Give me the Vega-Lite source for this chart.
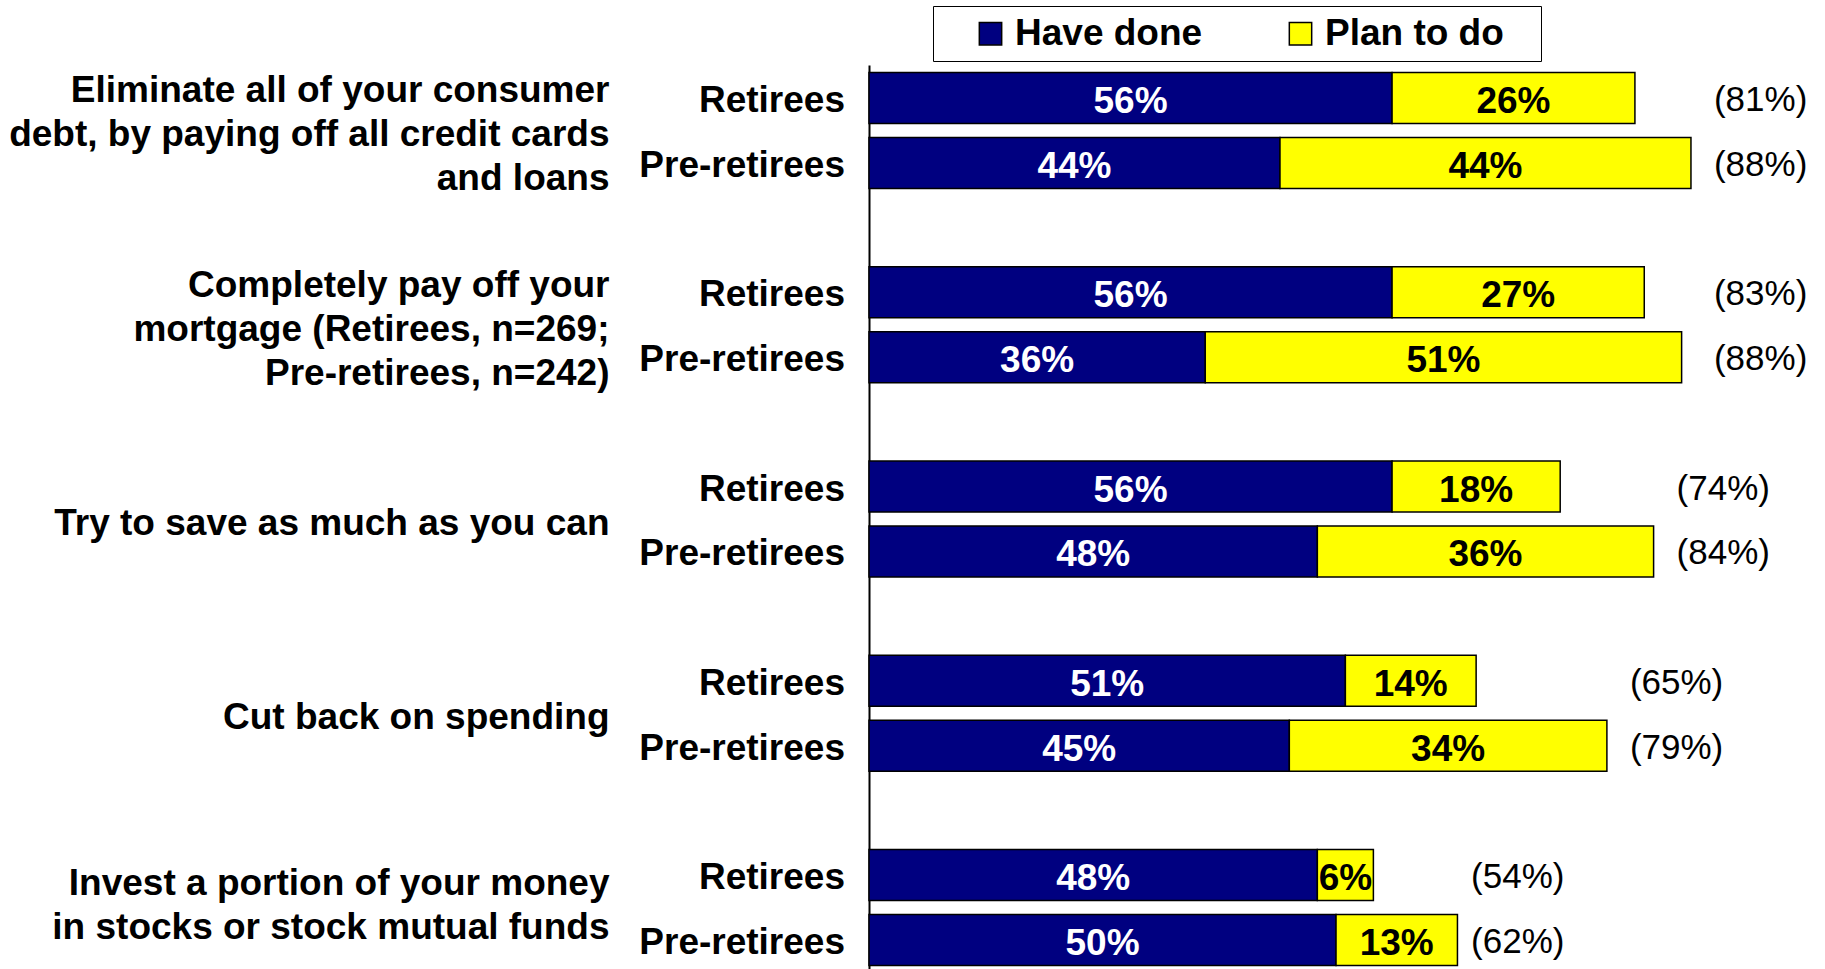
{
  "$schema": "https://vega.github.io/schema/vega-lite/v6.json",
  "width": 956,
  "height": 908,
  "autosize": {"type": "none"},
  "padding": {"left": 869, "top": 65, "right": 0, "bottom": 0},
  "background": "white",
  "config": {
    "view": {"stroke": null},
    "font": "Liberation Sans"
  },
  "datasets": {
    "segments": [
      {"question": "Eliminate all of your consumer|debt, by paying off all credit cards|and loans", "who": "Retirees", "status": "Have done", "value": 56},
      {"question": "Eliminate all of your consumer|debt, by paying off all credit cards|and loans", "who": "Retirees", "status": "Plan to do", "value": 26},
      {"question": "Eliminate all of your consumer|debt, by paying off all credit cards|and loans", "who": "Pre-retirees", "status": "Have done", "value": 44},
      {"question": "Eliminate all of your consumer|debt, by paying off all credit cards|and loans", "who": "Pre-retirees", "status": "Plan to do", "value": 44},
      {"question": "Completely pay off your|mortgage (Retirees, n=269;|Pre-retirees, n=242)", "who": "Retirees", "status": "Have done", "value": 56},
      {"question": "Completely pay off your|mortgage (Retirees, n=269;|Pre-retirees, n=242)", "who": "Retirees", "status": "Plan to do", "value": 27},
      {"question": "Completely pay off your|mortgage (Retirees, n=269;|Pre-retirees, n=242)", "who": "Pre-retirees", "status": "Have done", "value": 36},
      {"question": "Completely pay off your|mortgage (Retirees, n=269;|Pre-retirees, n=242)", "who": "Pre-retirees", "status": "Plan to do", "value": 51},
      {"question": "Try to save as much as you can", "who": "Retirees", "status": "Have done", "value": 56},
      {"question": "Try to save as much as you can", "who": "Retirees", "status": "Plan to do", "value": 18},
      {"question": "Try to save as much as you can", "who": "Pre-retirees", "status": "Have done", "value": 48},
      {"question": "Try to save as much as you can", "who": "Pre-retirees", "status": "Plan to do", "value": 36},
      {"question": "Cut back on spending", "who": "Retirees", "status": "Have done", "value": 51},
      {"question": "Cut back on spending", "who": "Retirees", "status": "Plan to do", "value": 14},
      {"question": "Cut back on spending", "who": "Pre-retirees", "status": "Have done", "value": 45},
      {"question": "Cut back on spending", "who": "Pre-retirees", "status": "Plan to do", "value": 34},
      {"question": "Invest a portion of your money|in stocks or stock mutual funds", "who": "Retirees", "status": "Have done", "value": 48},
      {"question": "Invest a portion of your money|in stocks or stock mutual funds", "who": "Retirees", "status": "Plan to do", "value": 6},
      {"question": "Invest a portion of your money|in stocks or stock mutual funds", "who": "Pre-retirees", "status": "Have done", "value": 50},
      {"question": "Invest a portion of your money|in stocks or stock mutual funds", "who": "Pre-retirees", "status": "Plan to do", "value": 13}
    ],
    "totals": [
      {"question": "Eliminate all of your consumer|debt, by paying off all credit cards|and loans", "who": "Retirees", "total": 81},
      {"question": "Eliminate all of your consumer|debt, by paying off all credit cards|and loans", "who": "Pre-retirees", "total": 88},
      {"question": "Completely pay off your|mortgage (Retirees, n=269;|Pre-retirees, n=242)", "who": "Retirees", "total": 83},
      {"question": "Completely pay off your|mortgage (Retirees, n=269;|Pre-retirees, n=242)", "who": "Pre-retirees", "total": 88},
      {"question": "Try to save as much as you can", "who": "Retirees", "total": 74},
      {"question": "Try to save as much as you can", "who": "Pre-retirees", "total": 84},
      {"question": "Cut back on spending", "who": "Retirees", "total": 65},
      {"question": "Cut back on spending", "who": "Pre-retirees", "total": 79},
      {"question": "Invest a portion of your money|in stocks or stock mutual funds", "who": "Retirees", "total": 54},
      {"question": "Invest a portion of your money|in stocks or stock mutual funds", "who": "Pre-retirees", "total": 62}
    ]
  },
  "encoding": {
    "y": {
      "field": "question",
      "type": "nominal",
      "sort": null,
      "scale": {"paddingInner": 0.326, "paddingOuter": 0},
      "axis": {
        "title": null,
        "ticks": false,
        "tickSize": 0,
        "grid": false,
        "domainColor": "black",
        "domainWidth": 2,
        "labelPadding": 260,
        "labelFont": "Liberation Sans",
        "labelFontSize": 37,
        "labelFontWeight": "bold",
        "labelColor": "black",
        "labelAlign": "right",
        "labelBaseline": "middle",
        "labelLineHeight": 44,
        "labelLimit": 0,
        "labelOffset": {
          "condition": [
            {"test": "length(split(datum.value, '|')) === 3", "value": -39},
            {"test": "length(split(datum.value, '|')) === 2", "value": -24}
          ],
          "value": 5
        },
        "labelExpr": "split(datum.label, '|')"
      }
    },
    "yOffset": {
      "field": "who",
      "type": "nominal",
      "sort": null,
      "scale": {"domain": ["Retirees", "Pre-retirees"], "paddingInner": 0.215, "paddingOuter": 0.115}
    }
  },
  "layer": [
    {
      "data": {"name": "segments"},
      "mark": {"type": "bar", "stroke": "black", "strokeWidth": 1.5},
      "encoding": {
        "x": {
          "field": "value",
          "type": "quantitative",
          "stack": "zero",
          "scale": {"domain": [0, 102.35], "nice": false, "zero": true},
          "axis": null
        },
        "order": {"field": "status", "sort": "ascending"},
        "color": {
          "field": "status",
          "type": "nominal",
          "scale": {"domain": ["Have done", "Plan to do"], "range": ["#000080", "#FFFF00"]},
          "legend": {
            "title": ".",
            "titleOrient": "right",
            "titleColor": "white",
            "titleFontSize": 12,
            "titlePadding": 24,
            "orient": "none",
            "legendX": 64,
            "legendY": -59,
            "direction": "horizontal",
            "columns": 2,
            "strokeColor": "black",
            "fillColor": "white",
            "padding": 9,
            "symbolOffset": 30,
            "columnPadding": 49,
            "labelOffset": 6,
            "labelFont": "Liberation Sans",
            "labelFontSize": 37,
            "labelFontWeight": "bold",
            "labelColor": "black",
            "labelLimit": 0,
            "symbolType": "square",
            "symbolSize": 500,
            "symbolStrokeColor": "black",
            "symbolStrokeWidth": 1.5,
            "symbolOpacity": 1
          }
        }
      }
    },
    {
      "data": {"name": "segments"},
      "transform": [
        {"stack": "value", "groupby": ["question", "who"], "sort": [{"field": "status", "order": "ascending"}], "as": ["v0", "v1"]},
        {"calculate": "(datum.v0 + datum.v1) / 2", "as": "mid"},
        {"calculate": "datum.value + '%'", "as": "label"}
      ],
      "mark": {"type": "text", "font": "Liberation Sans", "fontSize": 37, "fontWeight": "bold", "align": "center", "baseline": "middle", "dy": 4},
      "encoding": {
        "x": {"field": "mid", "type": "quantitative"},
        "text": {"field": "label"},
        "color": {
          "condition": {"test": "datum.status === 'Have done'", "value": "white"},
          "value": "black"
        }
      }
    },
    {
      "data": {"name": "totals"},
      "mark": {"type": "text", "font": "Liberation Sans", "fontSize": 37, "fontWeight": "bold", "align": "right", "baseline": "middle", "dx": -24, "dy": 3, "color": "black"},
      "encoding": {
        "x": {"datum": 0, "type": "quantitative"},
        "text": {"field": "who"}
      }
    },
    {
      "data": {"name": "totals"},
      "transform": [
        {"joinaggregate": [{"op": "max", "field": "total", "as": "groupmax"}], "groupby": ["question"]},
        {"calculate": "'(' + datum.total + '%)'", "as": "label"}
      ],
      "mark": {"type": "text", "font": "Liberation Sans", "fontSize": 35, "align": "left", "baseline": "middle", "dx": 23, "dy": 2, "color": "black"},
      "encoding": {
        "x": {"field": "groupmax", "type": "quantitative"},
        "text": {"field": "label"}
      }
    }
  ]
}
